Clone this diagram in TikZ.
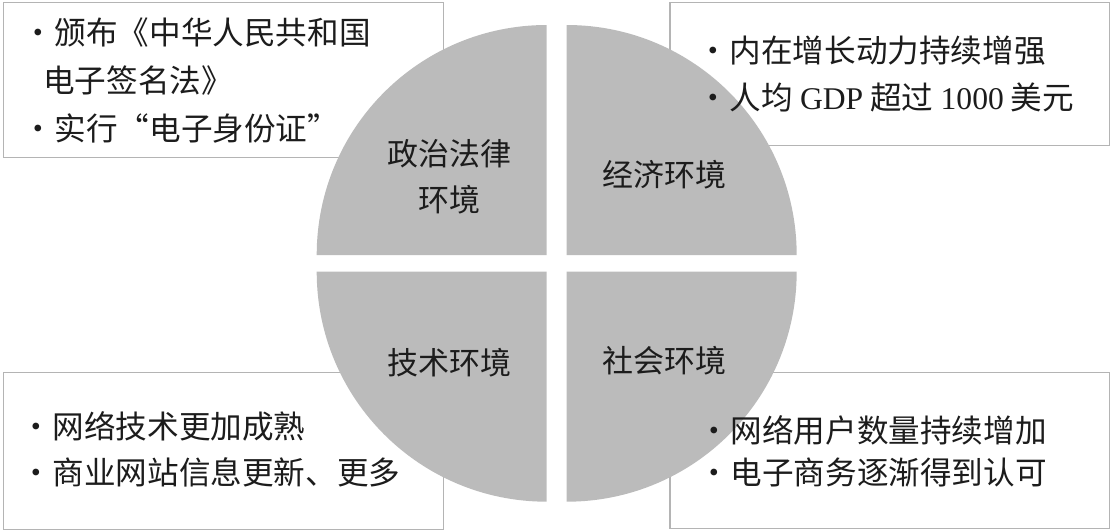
\documentclass[tikz,border=0pt]{standalone}
\usepackage{fontspec}
\setmainfont{Liberation Serif}
\newfontfamily\cjk{Noto Sans CJK SC}
\newfontfamily\lat{Liberation Serif}
\definecolor{pie}{RGB}{187,187,187}
\definecolor{frame}{RGB}{180,180,180}
\definecolor{ink}{RGB}{28,28,28}
\begin{document}
\begin{tikzpicture}[x=1pt,y=-1pt,
  infobox/.style={draw=frame, line width=1.4pt, fill=white, anchor=north west, inner sep=0pt},
  item/.style={anchor=west, inner sep=0pt, text=ink, font=\cjk\fontsize{31.6}{40}\selectfont},
  quad/.style={fill=pie, draw=none},
  qlabel/.style={align=center, inner sep=0pt, text=ink, font=\cjk\fontsize{31}{46}\selectfont}]
\useasboundingbox (0,0) rectangle (1111,530);
% boxes
\node[infobox, minimum width=439.7pt, minimum height=154.7pt] (tlbox) at (3,2) {};
\node[infobox, minimum width=439.7pt, minimum height=143.5pt] (trbox) at (669.3,1.5) {};
\node[infobox, minimum width=439.7pt, minimum height=157pt] (blbox) at (3,371.5) {};
\node[infobox, minimum width=439.7pt, minimum height=156pt] (brbox) at (669.3,371.5) {};
% quadrants
\fill[quad] (546.7,255) -- ++(-230,0) arc[start angle=180, end angle=270, radius=230] -- cycle;
\fill[quad] (566.7,255) -- ++(230,0) arc[start angle=0, end angle=-90, radius=230] -- cycle;
\fill[quad] (546.7,271.7) -- ++(-230,0) arc[start angle=180, end angle=90, radius=230] -- cycle;
\fill[quad] (566.7,271.7) -- ++(230,0) arc[start angle=0, end angle=90, radius=230] -- cycle;
% quadrant labels
\node[qlabel] (ql1) at (449.5,177) {政治法律\\环境};
\node[qlabel] (ql2) at (664.5,175) {经济环境};
\node[qlabel] (ql3) at (449.5,363) {技术环境};
\node[qlabel] (ql4) at (664.5,361) {社会环境};
% box texts
\node[item] (t1) at (22,32) {·\hspace{1pt}颁布《中华人民共和国};
\node[item] (t2) at (43,80) {电子签名法》};
\node[item] (t3) at (22,129) {·\hspace{1pt}实行“电子身份证”};
\node[item] (r1) at (697,51) {·\hspace{1pt}内在增长动力持续增强};
\node[item] (r2) at (697,97) {·\hspace{1pt}人均 {\lat GDP} 超过 {\lat 1000} 美元};
\node[item] (b1) at (20,426) {·\hspace{1pt}网络技术更加成熟};
\node[item] (b2) at (20,472) {·\hspace{1pt}商业网站信息更新、更多};
\node[item] (s1) at (698,430) {·\hspace{1pt}网络用户数量持续增加};
\node[item] (s2) at (698,472) {·\hspace{1pt}电子商务逐渐得到认可};
\end{tikzpicture}
\end{document}
